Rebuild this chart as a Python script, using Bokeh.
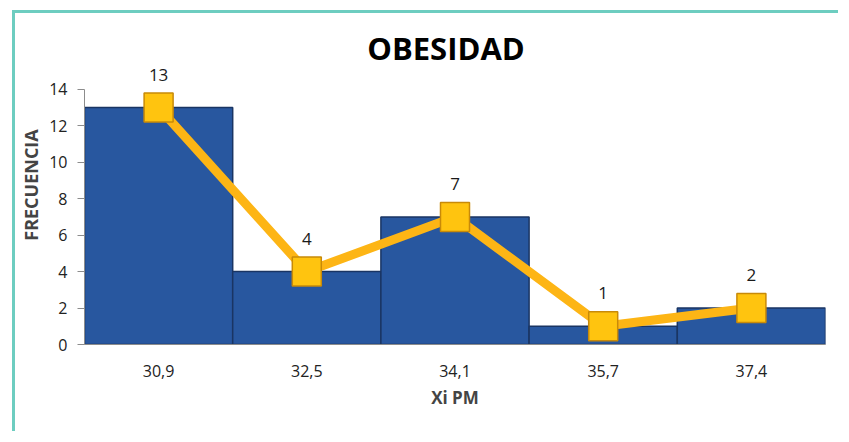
from bokeh.plotting import figure
from bokeh.models import FactorRange, Range1d, ColumnDataSource, LabelSet, Label
from bokeh.core.properties import value
from bokeh.embed import file_html
from bokeh.resources import INLINE

title_text = "OBESIDAD"
categories = ["30,9", "32,5", "34,1", "35,7", "37,4"]
frecuencia = [13, 4, 7, 1, 2]
labels = [str(v) for v in frecuencia]
y_ticks = [0, 2, 4, 6, 8, 10, 12, 14]

src = ColumnDataSource(dict(x=categories, y=frecuencia, lab=labels))

p = figure(
    x_range=FactorRange(*categories, range_padding=0),
    y_range=Range1d(0, 17.5),
    width=826, height=421,
    output_backend="svg", toolbar_location=None,
    min_border_left=69, min_border_right=16,
    min_border_top=12, min_border_bottom=90,
)
p.margin = (10, 0, 0, 12)
p.styles = {"border-top": "3px solid #6DCDC0", "border-left": "3px solid #6DCDC0"}

p.outline_line_color = None
p.xgrid.grid_line_color = None
p.ygrid.grid_line_color = None
p.background_fill_color = "white"
p.border_fill_color = "white"

FONT = "Open Sans"

p.vbar(x="x", top="y", width=1.0, source=src,
       fill_color="#28579F", line_color="#1A3563", line_width=1.5)

p.line(x="x", y="y", source=src, line_color="#FDB515", line_width=9)
p.scatter(x="x", y="y", source=src, marker="square", size=29,
          fill_color="#FFC40F", line_color="#C88A08", line_width=1.5)

lab = LabelSet(x="x", y="y", text="lab", source=src, text_align="center",
               text_baseline="alphabetic", y_offset=27,
               text_font=value(FONT), text_font_size=value("17px"),
               text_color="#1a1a1a")
p.add_layout(lab)

title = Label(x=2.5, y=16.25, x_offset=-9, text=title_text, text_align="center",
              text_baseline="alphabetic", text_font=FONT, text_font_size="31px",
              text_font_style="bold", text_color="#000000")
p.add_layout(title)

p.yaxis.ticker = y_ticks
p.yaxis.bounds = (0, 14)
p.yaxis.axis_label = "FRECUENCIA"
p.yaxis.axis_label_text_font = FONT
p.yaxis.axis_label_text_font_style = "bold"
p.yaxis.axis_label_text_font_size = "18px"
p.yaxis.axis_label_standoff = 3
p.yaxis.major_label_text_font = FONT
p.yaxis.major_label_text_font_size = "16px"
p.yaxis.major_label_text_color = "#222222"
p.yaxis.axis_line_color = "#8C8C8C"
p.yaxis.major_tick_line_color = "#8C8C8C"
p.yaxis.major_tick_out = 7
p.yaxis.major_tick_in = 0
p.yaxis.minor_tick_line_color = None
p.yaxis.major_label_standoff = 10

p.xaxis.axis_label = "Xi PM"
p.xaxis.axis_label_text_font = FONT
p.xaxis.axis_label_text_font_style = "bold"
p.xaxis.axis_label_text_font_size = "17px"
p.xaxis.axis_label_standoff = 6
p.xaxis.major_label_text_font = FONT
p.xaxis.major_label_text_font_size = "16px"
p.xaxis.major_label_text_color = "#222222"
p.xaxis.axis_line_color = "#8C8C8C"
p.xaxis.major_tick_line_color = None
p.xaxis.major_tick_out = 0
p.xaxis.major_label_standoff = 20

open("out.html", "w").write(file_html(p, INLINE))
